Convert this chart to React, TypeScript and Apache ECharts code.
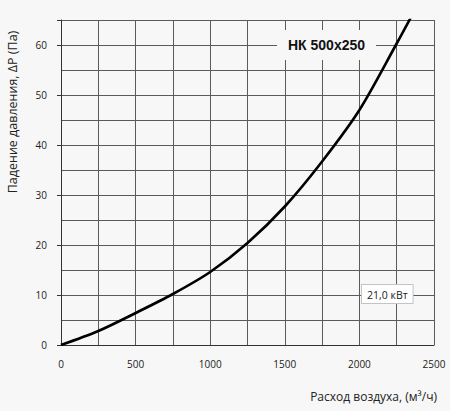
import React, { useEffect, useRef } from "react";
import * as echarts from "echarts";

const flow = [0, 250, 500, 750, 1000, 1250, 1500, 1750, 2000, 2250, 2350];
const pressure = [0, 2.8, 6.4, 10.2, 14.6, 20.4, 27.7, 36.7, 47.0, 60.3, 65.8];
const xTicks = [0, 500, 1000, 1500, 2000, 2500];
const yTicks = [0, 10, 20, 30, 40, 50, 60];
const titleText = "НК 500x250";
const powerText = "21,0 кВт";
const yName = "Падение давления, ΔP (Па)";
const xName = "Расход воздуха, (м³/ч)";

const BG = "#f7f7f7";
const GRID = "#5a5a5a";

export default function App() {
  const ref = useRef<HTMLDivElement>(null);
  useEffect(() => {
    if (!ref.current) return;
    const chart = echarts.init(ref.current, undefined, { renderer: "svg" });
    chart.setOption({
      animation: false,
      backgroundColor: BG,
      grid: { left: 61, right: 16, top: 20, bottom: 66 },
      xAxis: {
        type: "value",
        min: 0,
        max: 2500,
        interval: 250,
        axisLine: { show: true, lineStyle: { color: "#333", width: 1 } },
        axisTick: { show: false },
        splitLine: { show: true, lineStyle: { color: GRID, width: 1 } },
        axisLabel: {
          margin: 14,
          fontFamily: "Open Sans",
          fontSize: 10,
          color: "#222",
          formatter: (v: number) => (xTicks.includes(v) ? String(v) : ""),
        },
      },
      yAxis: [
        {
          type: "value",
          min: 0,
          max: 65,
          interval: 5,
          axisLine: { show: true, lineStyle: { color: "#333", width: 1 } },
          axisTick: { show: false },
          splitLine: { show: true, lineStyle: { color: GRID, width: 1 } },
          axisLabel: {
            margin: 14,
            fontFamily: "Open Sans",
            fontSize: 10,
            color: "#222",
            formatter: (v: number) => (yTicks.includes(v) ? String(v) : ""),
          },
        },
        {
          type: "value",
          position: "left",
          min: 0,
          max: 65,
          interval: 10,
          axisLine: { show: false },
          axisTick: { show: true, length: 4, lineStyle: { color: "#333" } },
          splitLine: { show: false },
          axisLabel: { show: false },
        },
      ],
      series: [
        {
          type: "line",
          yAxisIndex: 0,
          data: flow.map((f, i) => [f, pressure[i]]),
          smooth: 0.3,
          showSymbol: false,
          clip: true,
          lineStyle: { color: "#000", width: 2.6 },
        },
      ],
      graphic: [
        {
          type: "text",
          left: 277,
          top: 30,
          style: {
            text: titleText,
            font: "bold 14px 'Liberation Sans', Arial, sans-serif",
            fill: "#111",
            backgroundColor: BG,
            padding: [8, 11, 8, 11],
          },
          z: 100,
        },
        {
          type: "text",
          left: 361,
          top: 284,
          style: {
            text: powerText,
            font: "10.5px 'Open Sans', sans-serif",
            fill: "#222",
            backgroundColor: "#ffffff",
            borderColor: "#c4c4c4",
            borderWidth: 1,
            padding: [4, 5, 3, 5],
          },
          z: 100,
        },
        {
          type: "text",
          x: 12,
          y: 112,
          rotation: Math.PI / 2,
          style: {
            text: yName,
            font: "12.5px 'Open Sans', sans-serif",
            fill: "#222",
            align: "center",
            verticalAlign: "middle",
          },
        },
        {
          type: "text",
          x: 437,
          y: 396,
          style: {
            text: xName,
            font: "12px 'Open Sans', sans-serif",
            fill: "#222",
            align: "right",
            verticalAlign: "middle",
          },
        },
      ],
    });
    return () => chart.dispose();
  }, []);
  return (
    <div
      ref={ref}
      style={{ position: "fixed", left: 0, top: 0, width: 450, height: 411, background: BG }}
    />
  );
}
